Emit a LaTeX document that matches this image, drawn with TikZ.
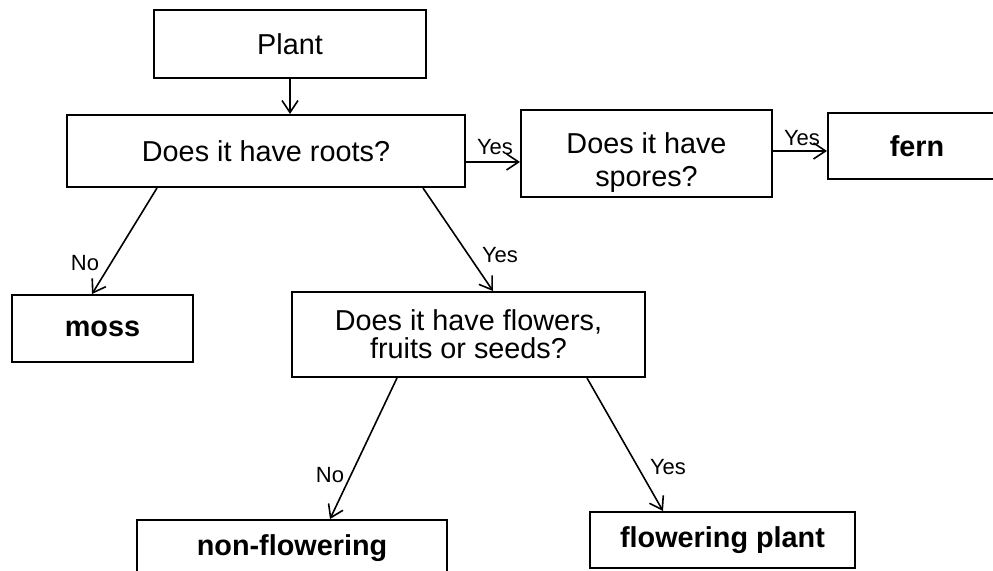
\documentclass[tikz,border=0pt]{standalone}
\usepackage{fontspec}
\setmainfont{Liberation Sans}
\usetikzlibrary{arrows.meta}
\begin{document}
\begin{tikzpicture}[x=0.5pt,y=-0.5pt,
  box/.style={draw,line width=1pt,inner sep=0pt,align=center,font=\fontsize{14.4}{17}\selectfont},
  endbox/.style={box,font=\fontsize{14.4}{17}\selectfont\bfseries},
  arr/.style={line width=0.8pt,-{Straight Barb[length=6pt,width=8pt]}},
  lbl/.style={inner sep=0pt,font=\fontsize{11}{13}\selectfont}]
\useasboundingbox (0,0) rectangle (993,571);
\clip (0,0) rectangle (993,571);
\node[box,minimum width=136pt,minimum height=34pt] (plant) at (290,44) {Plant};
\node[box,minimum width=199pt,minimum height=36pt] (roots) at (266,151) {Does it have roots?};
\node[box,minimum width=125.5pt,minimum height=43.5pt,font=\fontsize{14.4}{16.5}\selectfont] (spores) at (646.5,153.5) {\rule{0pt}{19pt}Does it have\\spores?};
\node[endbox,minimum width=89pt,minimum height=33pt] (fern) at (917,146) {fern};
\node[endbox,minimum width=90.5pt,minimum height=33.5pt] (moss) at (102.5,328.5) {moss};
\node[box,minimum width=176.5pt,minimum height=42.5pt,font=\fontsize{14.4}{14}\selectfont] (flowers) at (468.5,334.5) {Does it have flowers,\\fruits or seeds?};
\node[endbox,minimum width=155pt,minimum height=28pt] (nonflow) at (292,548) {non-flowering};
\node[endbox,minimum width=132.5pt,minimum height=28pt] (flp) at (722.5,540) {flowering plant};
\draw[arr] (plant.south) -- (plant.south |- roots.north);
\draw[arr] (roots.east |- 0,162) -- (spores.west |- 0,162);
\draw[arr] (spores.east |- 0,151) -- (fern.west |- 0,151);
\draw[arr] (roots.south -| 157,0) -- (moss.north -| 92,0);
\draw[arr] (roots.south -| 423,0) -- (flowers.north -| 493,0);
\draw[arr] (flowers.south -| 397,0) -- (nonflow.north -| 330,0);
\draw[arr] (flowers.south -| 587,0) -- (flp.north -| 663,0);
\node[lbl] (l1) at (495,147) {Yes};
\node[lbl] (l2) at (802,138) {Yes};
\node[lbl] (l3) at (85,263) {No};
\node[lbl] (l4) at (500,255) {Yes};
\node[lbl] (l5) at (330,475) {No};
\node[lbl] (l6) at (668,467) {Yes};
\end{tikzpicture}
\end{document}
